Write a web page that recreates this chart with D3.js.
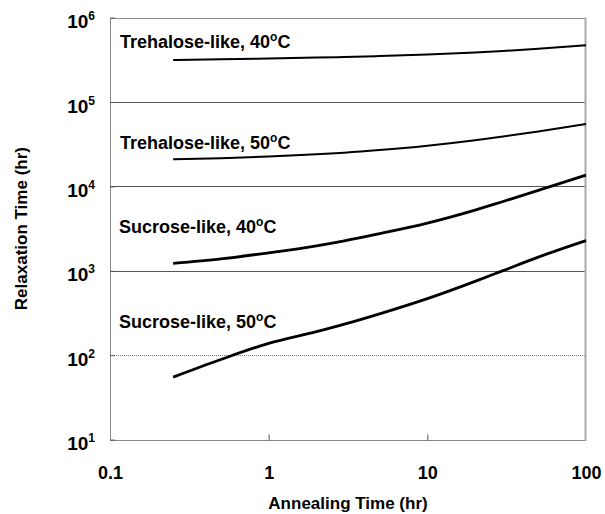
<!DOCTYPE html>
<html>
<head>
<meta charset="utf-8">
<script src="https://cdn.jsdelivr.net/npm/d3@7"></script>
<style>
  html, body { margin: 0; padding: 0; background: #fff; }
  svg { display: block; font-family: Arial, "Liberation Sans", Helvetica, sans-serif; font-weight: bold; }
</style>
</head>
<body>
<svg id="chart" width="605" height="514"></svg>
<script>
// Annealing times (hr) at which relaxation times were computed
const annealTimes = [0.25, 0.5, 1, 2, 3, 5, 10, 20, 30, 50, 100];

// Relaxation time (hr) for each formulation / temperature
const trehalose40 = [314800, 320600, 327300, 335700, 341200, 349900, 364800, 386400, 402700, 427600, 469900];
const trehalose50 = [20940, 21580, 22590, 23990, 25060, 26920, 30340, 35240, 38990, 44770, 54830];
const sucrose40   = [1227, 1387, 1633, 1977, 2265, 2754, 3673, 5236, 6622, 8954, 13580];
const sucrose50   = [55, 89, 138, 190, 233, 309, 468, 750, 1005, 1452, 2275];

const seriesNames = ["Trehalose-like", "Trehalose-like", "Sucrose-like", "Sucrose-like"];
const seriesTemps = ["40", "50", "40", "50"];
const seriesValues = [trehalose40, trehalose50, sucrose40, sucrose50];

const xTicks = [0.1, 1, 10, 100];
const xTickLabels = ["0.1", "1", "10", "100"];
const yTicks = [1e1, 1e2, 1e3, 1e4, 1e5, 1e6];
const yTickExponents = ["1", "2", "3", "4", "5", "6"];

const xTitle = "Annealing Time (hr)";
const yTitle = "Relaxation Time (hr)";

// ---- layout ----
const plot = { left: 110, right: 586, top: 17.6, bottom: 439.6 };

const x = d3.scaleLog().domain([0.1, 100]).range([plot.left, plot.right]);
const y = d3.scaleLog().domain([10, 1e6]).range([plot.bottom, plot.top]);

const svg = d3.select("#chart");

// horizontal grid lines at each decade (the 10^2 line is dotted)
svg.append("g")
  .selectAll("line")
  .data(yTicks.filter(v => v > 10 && v < 1e6))
  .join("line")
  .attr("x1", plot.left).attr("x2", plot.right)
  .attr("y1", d => Math.round(y(d)) + 0.5).attr("y2", d => Math.round(y(d)) + 0.5)
  .attr("stroke", d => d === 100 ? "#777" : "#555")
  .attr("stroke-width", 1)
  .attr("stroke-dasharray", d => d === 100 ? "1,1" : null);

// plot frame
svg.append("rect")
  .attr("x", plot.left + 0.5).attr("y", Math.round(plot.top) + 0.5)
  .attr("width", plot.right - plot.left - 1)
  .attr("height", Math.round(plot.bottom) - Math.round(plot.top))
  .attr("fill", "none")
  .attr("stroke", "#888")
  .attr("stroke-width", 1);
svg.append("line")
  .attr("x1", plot.right - 0.5).attr("x2", plot.right - 0.5)
  .attr("y1", plot.top).attr("y2", plot.bottom + 1)
  .attr("stroke", "#aaa").attr("stroke-width", 2);

// x axis: inward ticks at inner decades, labels below
const xAxis = d3.axisBottom(x)
  .tickValues(xTicks)
  .tickFormat((d, i) => xTickLabels[i])
  .tickSizeInner(-6)
  .tickSizeOuter(0)
  .tickPadding(0);

const gx = svg.append("g")
  .attr("transform", `translate(0,${Math.round(plot.bottom) + 0.5})`)
  .call(xAxis);
gx.select(".domain").remove();
gx.selectAll(".tick line")
  .attr("stroke", "#555")
  .attr("display", d => (d === 0.1 || d === 100) ? "none" : null);
gx.selectAll(".tick text")
  .attr("y", 38).attr("dy", null)
  .attr("fill", "#000")
  .style("font-size", "18px")
  .style("font-family", "Arial, 'Liberation Sans', sans-serif")
  .style("font-weight", "bold");

// y axis: power-of-ten labels built from base + superscript
const yAxis = d3.axisLeft(y)
  .tickValues(yTicks)
  .tickSizeInner(5)
  .tickSizeOuter(0)
  .tickFormat(() => "");

const gy = svg.append("g")
  .attr("transform", `translate(${plot.left},0)`)
  .call(yAxis);
gy.select(".domain").remove();
gy.selectAll(".tick line").attr("x2", 5).attr("stroke", "#555");
gy.selectAll(".tick text").each(function (d, i) {
  const t = d3.select(this)
    .attr("x", -15).attr("dy", null).attr("y", 10)
    .attr("text-anchor", "end")
    .attr("fill", "#000")
    .style("font-size", "19px")
    .style("font-family", "Arial, 'Liberation Sans', sans-serif")
    .style("font-weight", "bold");
  t.text(null);
  t.append("tspan").text("10");
  t.append("tspan").attr("dy", -8).style("font-size", "12px").text(yTickExponents[i]);
});

// axis titles
svg.append("text")
  .attr("x", (plot.left + plot.right) / 2)
  .attr("y", 509)
  .attr("text-anchor", "middle")
  .style("font-size", "17px")
  .text(xTitle);

svg.append("text")
  .attr("transform", `translate(27,${(plot.top + plot.bottom) / 2}) rotate(-90)`)
  .attr("text-anchor", "middle")
  .style("font-size", "17px")
  .text(yTitle);

// curves
const line = d3.line()
  .x(d => x(d[0]))
  .y(d => y(d[1]))
  .curve(d3.curveMonotoneX);

const strokeWidths = [2, 2, 2.8, 2.8];
seriesValues.forEach((vals, i) => {
  svg.append("path")
    .datum(annealTimes.map((t, j) => [t, vals[j]]))
    .attr("d", line)
    .attr("fill", "none")
    .attr("stroke", "#000")
    .attr("stroke-width", strokeWidths[i])
    .attr("stroke-linejoin", "round");
});

// series labels
const labelPos = [
  { x: 120, y: 48 },
  { x: 120, y: 149 },
  { x: 119, y: 233 },
  { x: 119, y: 328 }
];
seriesNames.forEach((name, i) => {
  const t = svg.append("text")
    .attr("x", labelPos[i].x)
    .attr("y", labelPos[i].y)
    .style("font-size", "18px");
  t.append("tspan").text(`${name}, ${seriesTemps[i]}`);
  t.append("tspan").attr("dy", -7).style("font-size", "12px").text("o");
  t.append("tspan").attr("dy", 7).text("C");
});
</script>
</body>
</html>
